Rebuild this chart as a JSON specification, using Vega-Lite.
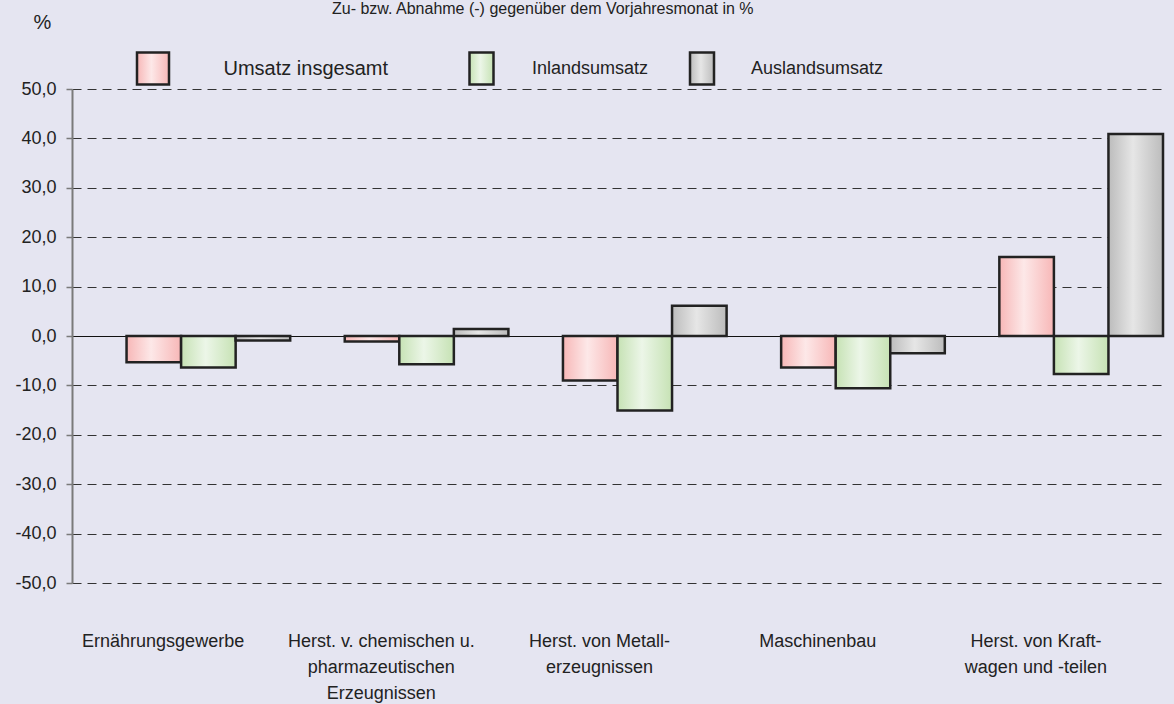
{
  "$schema": "https://vega.github.io/schema/vega-lite/v6.json",
  "autosize": "none",
  "width": 1091,
  "height": 494,
  "padding": {"left": 72, "top": 89, "right": 11, "bottom": 121},
  "background": "#e5e5f1",
  "config": {"font": "Liberation Sans", "view": {"stroke": null}},
  "title": {"text": "Zu- bzw. Abnahme (-) gegenüber dem Vorjahresmonat in %", "anchor": "start", "frame": "group", "dx": 260, "offset": -18, "fontSize": 16, "fontWeight": "normal", "color": "#222222", "baseline": "alphabetic"},
  "data": {"values": [
    {"cat": "Ernährungsgewerbe", "series": "Umsatz insgesamt", "value": -5.3},
    {"cat": "Ernährungsgewerbe", "series": "Inlandsumsatz", "value": -6.4},
    {"cat": "Ernährungsgewerbe", "series": "Auslandsumsatz", "value": -0.9},
    {"cat": "Herst. v. chemischen u.|pharmazeutischen|Erzeugnissen", "series": "Umsatz insgesamt", "value": -1.1},
    {"cat": "Herst. v. chemischen u.|pharmazeutischen|Erzeugnissen", "series": "Inlandsumsatz", "value": -5.7},
    {"cat": "Herst. v. chemischen u.|pharmazeutischen|Erzeugnissen", "series": "Auslandsumsatz", "value": 1.4},
    {"cat": "Herst. von Metall-|erzeugnissen", "series": "Umsatz insgesamt", "value": -9.0},
    {"cat": "Herst. von Metall-|erzeugnissen", "series": "Inlandsumsatz", "value": -15.1},
    {"cat": "Herst. von Metall-|erzeugnissen", "series": "Auslandsumsatz", "value": 6.1},
    {"cat": "Maschinenbau", "series": "Umsatz insgesamt", "value": -6.4},
    {"cat": "Maschinenbau", "series": "Inlandsumsatz", "value": -10.6},
    {"cat": "Maschinenbau", "series": "Auslandsumsatz", "value": -3.5},
    {"cat": "Herst. von Kraft-|wagen und -teilen", "series": "Umsatz insgesamt", "value": 16.0},
    {"cat": "Herst. von Kraft-|wagen und -teilen", "series": "Inlandsumsatz", "value": -7.7},
    {"cat": "Herst. von Kraft-|wagen und -teilen", "series": "Auslandsumsatz", "value": 40.9}
  ]},
  "encoding": {
    "x": {"field": "cat", "type": "nominal", "sort": null, "scale": {"paddingInner": 0, "paddingOuter": 0},
      "axis": {"orient": "bottom", "domain": false, "ticks": false, "labelPadding": 49, "labelFontSize": 18, "labelLineHeight": 26, "labelColor": "#222222", "labelAngle": 0, "labelBaseline": "top", "labelLimit": 0, "labelOffset": -18, "labelExpr": "split(datum.label, '|')", "title": null}},
    "xOffset": {"field": "series", "type": "nominal", "scale": {"domain": ["_", "Umsatz insgesamt", "Inlandsumsatz", "Auslandsumsatz"], "paddingInner": 0, "paddingOuter": 0}},
    "y": {"field": "value", "type": "quantitative", "scale": {"domain": [-50, 50], "nice": false, "zero": false},
      "axis": {"orient": "left", "values": [-50, -40, -30, -20, -10, 0, 10, 20, 30, 40, 50], "labelExpr": "replace(replace(format(datum.value, '.1f'), '.', ','), '\u2212', '-')", "domainColor": "#7a7a7a", "domainWidth": 2, "tickColor": "#7a7a7a", "tickSize": 6, "tickWidth": 1.5, "labelPadding": 10, "labelFontSize": 18, "labelColor": "#222222", "grid": true,
        "gridDash": {"condition": {"test": "datum.value === 0", "value": []}, "value": [9, 6]},
        "gridColor": {"condition": {"test": "datum.value === 0", "value": "#111111"}, "value": "#333333"},
        "gridWidth": 1.1, "title": "%", "titleAngle": 0, "titleX": -30, "titleY": -67, "titleAlign": "center", "titleBaseline": "middle", "titleFontSize": 20, "titleFontWeight": "normal", "titleColor": "#222222"}}
  },
  "resolve": {"scale": {"stroke": "independent"}},
  "layer": [
    {
      "mark": {"type": "bar", "stroke": "#222222", "strokeWidth": 2.5, "fill": {"gradient": "linear", "x1": 0, "x2": 1, "y1": 0, "y2": 0, "stops": [{"offset": 0, "color": "#f7b7b7"}, {"offset": 0.45, "color": "#fde8e8"}, {"offset": 1, "color": "#f7b7b7"}]}},
      "transform": [{"filter": "datum.series === 'Umsatz insgesamt'"}],
      "encoding": {
        "stroke": {"field": "series", "type": "nominal", "scale": {"range": ["#222222"]},
          "legend": {"orient": "none", "legendX": 63.5, "legendY": -38, "title": null, "padding": 0, "symbolType": "M-1,-1H1V1H-1Z", "symbolSize": 1024, "symbolStrokeWidth": 2.5, "symbolStrokeColor": "#222222", "labelFontSize": 20, "labelLimit": 400, "labelColor": "#222222", "labelOffset": 53,
            "encode": {"symbols": {"update": {"opacity": {"value": 1}, "fill": {"value": {"gradient": "linear", "x1": 0, "x2": 1, "y1": 0, "y2": 0, "stops": [{"offset": 0, "color": "#f7b7b7"}, {"offset": 0.45, "color": "#fde8e8"}, {"offset": 1, "color": "#f7b7b7"}]}}}}}}}
      }
    },
    {
      "mark": {"type": "bar", "stroke": "#222222", "strokeWidth": 2.5, "fill": {"gradient": "linear", "x1": 0, "x2": 1, "y1": 0, "y2": 0, "stops": [{"offset": 0, "color": "#c6e2b4"}, {"offset": 0.45, "color": "#ecf6e8"}, {"offset": 1, "color": "#c6e2b4"}]}},
      "transform": [{"filter": "datum.series === 'Inlandsumsatz'"}],
      "encoding": {
        "stroke": {"field": "series", "type": "nominal", "scale": {"range": ["#222222"]},
          "legend": {"orient": "none", "legendX": 392, "legendY": -38, "title": null, "padding": 0, "symbolType": "M-0.75,-1H0.75V1H-0.75Z", "symbolSize": 1024, "symbolStrokeWidth": 2.5, "symbolStrokeColor": "#222222", "labelFontSize": 18, "labelLimit": 400, "labelColor": "#222222", "labelOffset": 33,
            "encode": {"symbols": {"update": {"opacity": {"value": 1}, "fill": {"value": {"gradient": "linear", "x1": 0, "x2": 1, "y1": 0, "y2": 0, "stops": [{"offset": 0, "color": "#c6e2b4"}, {"offset": 0.45, "color": "#ecf6e8"}, {"offset": 1, "color": "#c6e2b4"}]}}}}}}}
      }
    },
    {
      "mark": {"type": "bar", "stroke": "#222222", "strokeWidth": 2.5, "fill": {"gradient": "linear", "x1": 0, "x2": 1, "y1": 0, "y2": 0, "stops": [{"offset": 0, "color": "#bcbcbc"}, {"offset": 0.45, "color": "#e6e6e6"}, {"offset": 1, "color": "#bcbcbc"}]}},
      "transform": [{"filter": "datum.series === 'Auslandsumsatz'"}],
      "encoding": {
        "stroke": {"field": "series", "type": "nominal", "scale": {"range": ["#222222"]},
          "legend": {"orient": "none", "legendX": 612.5, "legendY": -38, "title": null, "padding": 0, "symbolType": "M-0.75,-1H0.75V1H-0.75Z", "symbolSize": 1024, "symbolStrokeWidth": 2.5, "symbolStrokeColor": "#222222", "labelFontSize": 18, "labelLimit": 400, "labelColor": "#222222", "labelOffset": 31.5,
            "encode": {"symbols": {"update": {"opacity": {"value": 1}, "fill": {"value": {"gradient": "linear", "x1": 0, "x2": 1, "y1": 0, "y2": 0, "stops": [{"offset": 0, "color": "#bcbcbc"}, {"offset": 0.45, "color": "#e6e6e6"}, {"offset": 1, "color": "#bcbcbc"}]}}}}}}}
      }
    }
  ]
}
